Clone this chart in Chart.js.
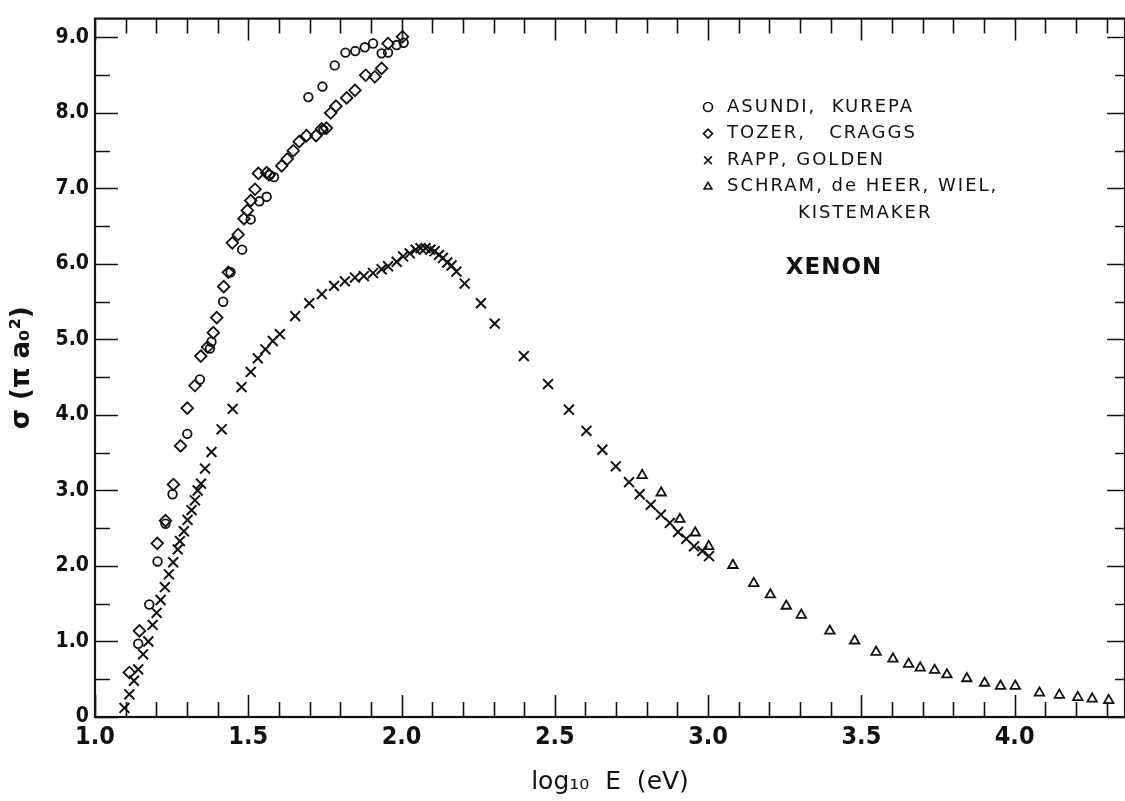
<!DOCTYPE html>
<html>
<head>
<meta charset="utf-8">
<script src="https://cdn.jsdelivr.net/npm/chart.js@4.4.0/dist/chart.umd.min.js"></script>
<style>
  html, body { margin: 0; padding: 0; background: #fff; }
  #wrap { position: relative; width: 1125px; height: 801px; }
</style>
</head>
<body>
<div id="wrap"><canvas id="xenonChart"></canvas></div>
<script>
// Xenon: ionization cross section sigma (pi a0^2) against log10 E (eV)
const asundiX = [1.141, 1.177, 1.204, 1.230, 1.253, 1.301, 1.342, 1.375, 1.380, 1.418, 1.442, 1.480,
  1.508, 1.536, 1.560, 1.570, 1.584, 1.696, 1.745, 1.742, 1.782, 1.817, 1.849, 1.880, 1.907, 1.935,
  1.956, 1.984, 2.007];
const asundiY = [0.97, 1.49, 2.06, 2.56, 2.95, 3.75, 4.47, 4.88, 4.97, 5.50, 5.89, 6.19,
  6.59, 6.83, 6.89, 7.18, 7.15, 8.21, 7.78, 8.35, 8.63, 8.80, 8.82, 8.87, 8.92, 8.79,
  8.80, 8.90, 8.93];

const tozerX = [1.112, 1.145, 1.203, 1.230, 1.256, 1.279, 1.301, 1.326, 1.345, 1.367, 1.386, 1.397,
  1.420, 1.435, 1.448, 1.467, 1.486, 1.497, 1.508, 1.522, 1.533, 1.560, 1.568, 1.609, 1.627, 1.647,
  1.666, 1.690, 1.721, 1.739, 1.755, 1.769, 1.786, 1.821, 1.848, 1.883, 1.913, 1.935, 1.956, 2.003];
const tozerY = [0.59, 1.14, 2.30, 2.60, 3.08, 3.59, 4.09, 4.39, 4.78, 4.90, 5.09, 5.29,
  5.70, 5.89, 6.28, 6.39, 6.60, 6.71, 6.84, 6.99, 7.20, 7.21, 7.18, 7.30, 7.39, 7.50,
  7.62, 7.70, 7.70, 7.79, 7.80, 8.00, 8.09, 8.20, 8.30, 8.50, 8.48, 8.59, 8.92, 9.01];

const rappX = [1.096, 1.112, 1.127, 1.141, 1.157, 1.174, 1.188, 1.201, 1.214, 1.228, 1.241, 1.255,
  1.270, 1.277, 1.290, 1.302, 1.315, 1.326, 1.335, 1.346, 1.359, 1.380, 1.413, 1.449, 1.478, 1.508,
  1.531, 1.556, 1.580, 1.603, 1.653, 1.699, 1.740, 1.780, 1.815, 1.848, 1.877, 1.907, 1.935, 1.956,
  1.984, 2.005, 2.027, 2.046, 2.062, 2.078, 2.094, 2.108, 2.122, 2.135, 2.149, 2.163, 2.179, 2.206,
  2.259, 2.304, 2.399, 2.478, 2.546, 2.603, 2.655, 2.699, 2.742, 2.777, 2.813, 2.846, 2.875, 2.902,
  2.929, 2.954, 2.981, 3.003];
const rappY = [0.12, 0.30, 0.48, 0.63, 0.83, 1.00, 1.22, 1.38, 1.55, 1.72, 1.89, 2.05,
  2.22, 2.33, 2.46, 2.61, 2.74, 2.87, 3.00, 3.09, 3.29, 3.51, 3.81, 4.08, 4.37, 4.57,
  4.75, 4.87, 4.98, 5.07, 5.31, 5.48, 5.60, 5.71, 5.77, 5.82, 5.84, 5.88, 5.93, 5.97,
  6.03, 6.10, 6.14, 6.19, 6.21, 6.21, 6.19, 6.17, 6.12, 6.08, 6.02, 5.98, 5.90, 5.74,
  5.48, 5.21, 4.78, 4.41, 4.07, 3.79, 3.54, 3.32, 3.11, 2.95, 2.81, 2.68, 2.57, 2.45,
  2.36, 2.26, 2.20, 2.13];

const schramX = [2.785, 2.847, 2.908, 2.958, 3.002, 3.081, 3.149, 3.203, 3.255, 3.304, 3.397, 3.478,
  3.548, 3.603, 3.654, 3.692, 3.739, 3.779, 3.844, 3.902, 3.954, 4.002, 4.081, 4.146, 4.206, 4.253,
  4.307];
const schramY = [3.20, 2.97, 2.62, 2.44, 2.26, 2.01, 1.77, 1.62, 1.47, 1.35, 1.14, 1.01,
  0.86, 0.77, 0.70, 0.65, 0.62, 0.56, 0.51, 0.45, 0.41, 0.41, 0.32, 0.29, 0.26, 0.24,
  0.22];

const seriesNames = ['ASUNDI,  KUREPA', 'TOZER,   CRAGGS', 'RAPP, GOLDEN', 'SCHRAM, de HEER, WIEL,\nKISTEMAKER'];
const gasName = 'XENON';
const xTickLabels = ['1.0', '1.5', '2.0', '2.5', '3.0', '3.5', '4.0'];
const yTickLabels = ['0', '1.0', '2.0', '3.0', '4.0', '5.0', '6.0', '7.0', '8.0', '9.0'];

const INK = '#111';

function points(xs, ys) {
  return xs.map((x, i) => ({ x: x, y: ys[i] }));
}

function tickLabel(labels, value) {
  const hit = labels.find(l => Math.abs(parseFloat(l) - value) < 1e-6);
  return hit === undefined ? '' : hit;
}

// inward tick marks on all four sides plus the box
const frameTicks = {
  id: 'frameTicks',
  afterDatasetsDraw(chart) {
    const { ctx, chartArea: a, scales: { x, y } } = chart;
    ctx.save();
    ctx.strokeStyle = INK;
    ctx.lineWidth = 1.6;
    ctx.beginPath();
    x.ticks.forEach(t => {
      const v = Math.round(t.value * 10);
      if (Math.abs(t.value * 10 - v) > 1e-6) return;
      const px = Math.round(x.getPixelForValue(t.value)) + 0.5;
      const major = v % 5 === 0;
      ctx.moveTo(px, a.bottom);
      ctx.lineTo(px, a.bottom - (major ? 22 : 15));
      ctx.moveTo(px, a.top);
      ctx.lineTo(px, a.top + (major ? 22 : 15));
    });
    y.ticks.forEach(t => {
      const major = Math.abs(t.value - Math.round(t.value)) < 1e-6;
      if (!major && Math.abs(t.value * 2 - Math.round(t.value * 2)) > 1e-6) return;
      const py = Math.round(y.getPixelForValue(t.value)) + 0.5;
      ctx.moveTo(a.left, py);
      ctx.lineTo(a.left + (major ? 23 : 15), py);
      ctx.moveTo(a.right, py);
      ctx.lineTo(a.right - (major ? 18 : 10), py);
    });
    ctx.stroke();
    ctx.lineWidth = 2.2;
    ctx.strokeRect(a.left, a.top, a.right - a.left, a.bottom - a.top);
    ctx.restore();
  }
};

// symbol key and gas name in the upper right
const keyBox = {
  id: 'keyBox',
  afterDraw(chart) {
    const ctx = chart.ctx;
    ctx.save();
    ctx.textBaseline = 'middle';
    let row = 0;
    chart.data.datasets.forEach((ds, i) => {
      const yy = 107 + row * 26.6;
      ctx.strokeStyle = INK;
      ctx.fillStyle = 'rgba(0,0,0,0)';
      ctx.lineWidth = 1.6;
      Chart.helpers.drawPoint(ctx, { pointStyle: ds.pointStyle, radius: ds.pointStyle === 'crossRot' ? 5.5 : 4.5, rotation: 0, borderWidth: 1.6 }, 708, yy);
      ctx.fillStyle = INK;
      ctx.font = '18px "DejaVu Sans"';
      ctx.letterSpacing = '2px';
      seriesNames[i].split('\n').forEach((line, k) => {
        ctx.fillText(line, k === 0 ? 727 : 798, 107 + row * 26.6);
        row++;
      });
    });
    ctx.font = 'bold 23px "DejaVu Sans"';
    ctx.letterSpacing = '1px';
    ctx.textAlign = 'center';
    ctx.fillText(gasName, 834, 268);
    ctx.restore();
  }
};

const markerBase = {
  showLine: false,
  borderColor: INK,
  backgroundColor: 'rgba(0,0,0,0)',
  pointBorderColor: INK,
  pointBackgroundColor: 'rgba(0,0,0,0)',
  pointBorderWidth: 1.8
};

new Chart(document.getElementById('xenonChart').getContext('2d'), {
  type: 'scatter',
  data: {
    datasets: [
      Object.assign({ label: seriesNames[0], data: points(asundiX, asundiY), pointStyle: 'circle', pointRadius: 4.3 }, markerBase),
      Object.assign({ label: seriesNames[1], data: points(tozerX, tozerY), pointStyle: 'rectRot', pointRadius: 5.8 }, markerBase),
      Object.assign({ label: seriesNames[2], data: points(rappX, rappY), pointStyle: 'crossRot', pointRadius: 7 }, markerBase, { pointBorderWidth: 2 }),
      Object.assign({ label: seriesNames[3], data: points(schramX, schramY), pointStyle: 'triangle', pointRadius: 5.5 }, markerBase)
    ]
  },
  options: {
    responsive: true,
    maintainAspectRatio: false,
    animation: false,
    layout: { autoPadding: false, padding: { top: 9, right: 0, left: 0, bottom: 0 } },
    plugins: {
      legend: { display: false },
      tooltip: { enabled: false }
    },
    scales: {
      x: {
        type: 'linear',
        min: 1.0,
        max: 4.36,
        border: { display: false },
        grid: { display: false, drawTicks: false },
        ticks: {
          stepSize: 0.1,
          includeBounds: false,
          autoSkip: false,
          maxRotation: 0,
          padding: 5,
          color: INK,
          font: { family: '"Liberation Sans Narrow", "DejaVu Sans Condensed", sans-serif', size: 25, weight: 'bold' },
          callback: value => tickLabel(xTickLabels, value)
        },
        title: {
          display: true,
          text: 'log\u2081\u2080  E  (eV)',
          color: INK,
          font: { family: '"DejaVu Sans", sans-serif', size: 25 },
          padding: { top: 0, bottom: 4 }
        },
        afterFit: scale => { scale.height = 84; }
      },
      y: {
        type: 'linear',
        min: 0,
        max: 9.25,
        border: { display: false },
        grid: { display: false, drawTicks: false },
        ticks: {
          stepSize: 0.5,
          includeBounds: false,
          autoSkip: false,
          padding: 6,
          color: INK,
          font: { family: '"Liberation Sans Narrow", "DejaVu Sans Condensed", sans-serif', size: 21, weight: 'bold' },
          callback: value => tickLabel(yTickLabels, value)
        },
        title: {
          display: true,
          text: '\u03c3 (\u03c0 a\u2080\u00b2)',
          color: INK,
          font: { family: '"DejaVu Sans", sans-serif', size: 26, weight: 'bold' },
          padding: { top: 7, bottom: 0 }
        },
        afterFit: scale => { scale.width = 95; }
      }
    }
  },
  plugins: [frameTicks, keyBox]
});
</script>
</body>
</html>
